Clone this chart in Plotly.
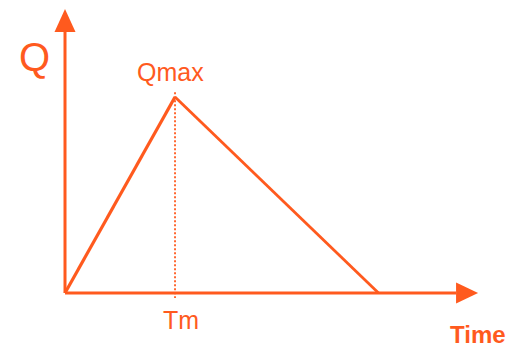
import plotly.graph_objects as go

# Data (triangular hydrograph, normalised units)
time_vals = [0, 1, 2.85]      # start, time to peak (Tm), end of runoff
flow_vals = [0, 1, 0]         # Q at those times (peak = Qmax)
peak_label = "Qmax"
peak_time_label = "Tm"
x_title = "Time"
y_title = "Q"

ORANGE = "#FF5A1E"
W, H = 509, 345

# axis extents (data units)
x_min, x_max = -0.591, 4.036
y_min, y_max = -0.265, 1.495
x_arrow_base, x_arrow_tip = 3.555, 3.755
y_arrow_base, y_arrow_tip = 1.332, 1.449
x_head_half = 0.0536   # in Q units
y_head_half = 0.0955   # in time units

fig = go.Figure()

# rising limb
fig.add_trace(go.Scatter(x=time_vals[:2], y=flow_vals[:2], mode="lines",
                         line=dict(color=ORANGE, width=3.2), hoverinfo="skip"))
# falling limb
fig.add_trace(go.Scatter(x=time_vals[1:], y=flow_vals[1:], mode="lines",
                         line=dict(color=ORANGE, width=2.8), hoverinfo="skip"))
# dotted line from peak to axis
fig.add_trace(go.Scatter(x=[time_vals[1], time_vals[1]], y=[flow_vals[1] + 0.025, -0.025],
                         mode="lines", line=dict(color=ORANGE, width=1.8, dash="2px,2px"),
                         hoverinfo="skip"))

shapes = [
    dict(type="line", x0=0, y0=0, x1=x_arrow_base, y1=0, line=dict(color=ORANGE, width=3)),
    dict(type="line", x0=0, y0=0, x1=0, y1=y_arrow_base, line=dict(color=ORANGE, width=3)),
    dict(type="path",
         path=f"M {x_arrow_base} {x_head_half} L {x_arrow_tip} 0 L {x_arrow_base} {-x_head_half} Z",
         fillcolor=ORANGE, line=dict(color=ORANGE, width=0)),
    dict(type="path",
         path=f"M {-y_head_half} {y_arrow_base} L 0 {y_arrow_tip} L {y_head_half} {y_arrow_base} Z",
         fillcolor=ORANGE, line=dict(color=ORANGE, width=0)),
]

FONT = "Liberation Sans, Arial, sans-serif"

def pa(px, py):
    return px / W, 1 - py / H

annos = []
for txt, (px, py), size, bold in [
    (y_title, (34, 57), 40, False),
    (peak_label, (170, 72), 25, False),
    (peak_time_label, (181, 320), 25, False),
    (x_title, (478, 334), 24, True),
]:
    ax_, ay_ = pa(px, py)
    annos.append(dict(x=ax_, y=ay_, xref="paper", yref="paper", showarrow=False,
                      xanchor="center", yanchor="middle",
                      text=f"<b>{txt}</b>" if bold else txt,
                      font=dict(family=FONT, size=size, color=ORANGE)))

fig.update_layout(
    width=W, height=H, margin=dict(l=0, r=0, t=0, b=0),
    paper_bgcolor="white", plot_bgcolor="white", showlegend=False,
    xaxis=dict(range=[x_min, x_max], visible=False, fixedrange=True),
    yaxis=dict(range=[y_min, y_max], visible=False, fixedrange=True),
    shapes=shapes, annotations=annos,
)

fig.write_html("out.html", config={"displayModeBar": False},
               post_script="document.body.style.margin='0';document.body.style.overflow='hidden';")
